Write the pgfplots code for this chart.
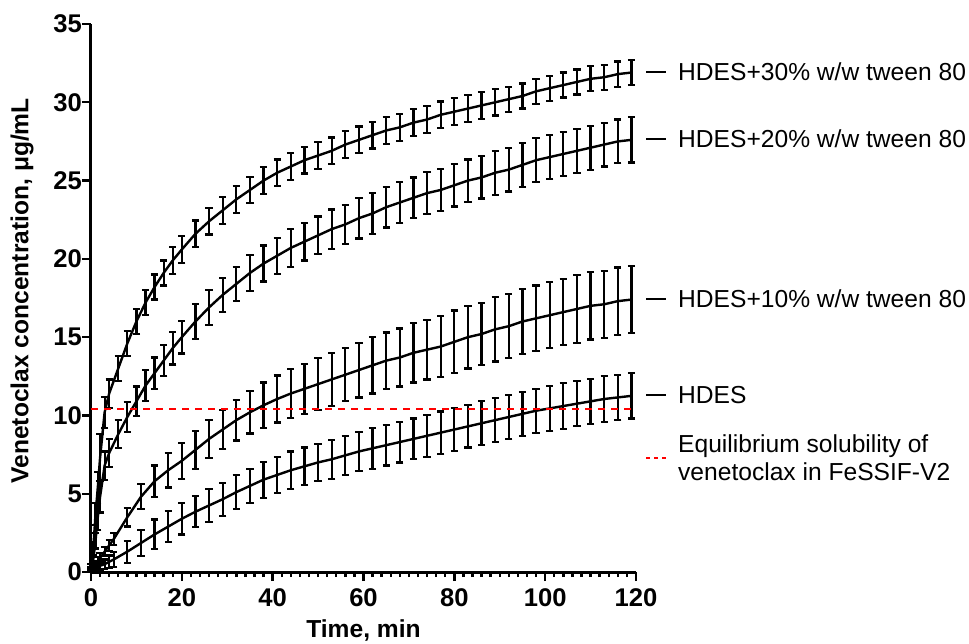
\documentclass[border=0pt]{standalone}
\usepackage{fontspec}
\setmainfont{Liberation Sans}
\usepackage{pgfplots}
\usepackage{pgfplotstable}
\pgfplotsset{compat=1.18}

% time, mean, sd
\pgfplotstableread{
t v e
0 0.3 0.2
0.5 1.5 0.4
1 3.7 0.7
1.5 5.4 1.0
2 7.3 1.5
3 10.2 1.0
4 11.4 0.9
6 13.0 0.8
8 14.6 0.8
10 16.0 0.8
12 17.2 0.8
14 18.2 0.8
16 19.1 0.8
18 19.9 0.85
20 20.6 0.85
23 21.6 0.85
26 22.4 0.85
29 23.1 0.85
32 23.8 0.85
35 24.4 0.85
38 25.0 0.85
41 25.5 0.85
44 25.9 0.85
47 26.3 0.85
50 26.6 0.85
53 26.9 0.85
56 27.3 0.85
59 27.6 0.85
62 27.9 0.85
65 28.2 0.85
68 28.4 0.85
71 28.7 0.85
74 28.9 0.85
77 29.2 0.85
80 29.4 0.85
83 29.6 0.85
86 29.8 0.85
89 30.0 0.85
92 30.2 0.8
95 30.4 0.8
98 30.7 0.8
101 30.9 0.8
104 31.1 0.8
107 31.3 0.8
110 31.5 0.8
113 31.6 0.8
116 31.8 0.8
119 31.9 0.8
}\tabA

\pgfplotstableread{
t v e
0 0.3 0.2
0.5 0.8 0.3
1 2.0 0.5
1.5 3.5 0.8
2 4.8 1.0
3 6.8 0.9
4 7.6 0.9
6 8.8 0.9
8 9.9 0.95
10 10.9 0.95
12 11.9 1.0
14 12.7 1.0
16 13.5 1.0
18 14.3 1.05
20 15.0 1.05
23 16.0 1.1
26 16.9 1.1
29 17.7 1.1
32 18.4 1.1
35 19.1 1.15
38 19.7 1.15
41 20.2 1.15
44 20.7 1.2
47 21.1 1.2
50 21.5 1.2
53 21.9 1.25
56 22.2 1.25
59 22.6 1.3
62 22.9 1.3
65 23.3 1.3
68 23.6 1.3
71 23.9 1.3
74 24.2 1.35
77 24.4 1.35
80 24.7 1.35
83 25.0 1.35
86 25.2 1.35
89 25.5 1.4
92 25.7 1.4
95 26.0 1.4
98 26.3 1.4
101 26.5 1.4
104 26.7 1.4
107 26.9 1.4
110 27.1 1.4
113 27.3 1.4
116 27.5 1.4
119 27.6 1.45
}\tabB

\pgfplotstableread{
t v e
0 0.2 0.1
0.5 0.3 0.15
1 0.5 0.2
1.5 0.7 0.25
2 0.9 0.3
3 1.3 0.3
4 1.7 0.35
5 2.1 0.4
8 3.5 0.6
11 4.8 0.8
14 5.8 1.0
17 6.5 1.1
20 7.1 1.15
23 7.8 1.2
26 8.5 1.2
29 9.1 1.25
32 9.7 1.3
35 10.2 1.35
38 10.65 1.45
41 11.05 1.5
44 11.4 1.55
47 11.7 1.6
50 12.0 1.65
53 12.3 1.7
56 12.6 1.7
59 12.9 1.75
62 13.2 1.8
65 13.5 1.8
68 13.7 1.85
71 14.0 1.9
74 14.2 1.9
77 14.4 1.95
80 14.7 2.0
83 15.0 2.0
86 15.2 2.0
89 15.5 2.05
92 15.7 2.05
95 16.0 2.1
98 16.2 2.1
101 16.4 2.1
104 16.6 2.1
107 16.8 2.15
110 17.0 2.15
113 17.1 2.15
116 17.3 2.15
119 17.4 2.15
}\tabC

\pgfplotstableread{
t v e
0 0.1 0.1
0.5 0.15 0.1
1 0.2 0.15
1.5 0.3 0.2
2 0.4 0.25
3 0.5 0.3
4 0.65 0.4
5 0.8 0.5
8 1.3 0.7
11 1.85 0.85
14 2.4 0.95
17 2.9 1.0
20 3.4 1.0
23 3.85 1.0
26 4.25 1.05
29 4.65 1.05
32 5.1 1.1
35 5.5 1.1
38 5.9 1.15
41 6.2 1.15
44 6.5 1.2
47 6.75 1.2
50 7.0 1.2
53 7.2 1.25
56 7.45 1.25
59 7.7 1.25
62 7.9 1.3
65 8.1 1.3
68 8.3 1.3
71 8.5 1.3
74 8.7 1.35
77 8.9 1.35
80 9.1 1.35
83 9.3 1.35
86 9.5 1.4
89 9.7 1.4
92 9.9 1.4
95 10.1 1.4
98 10.3 1.4
101 10.45 1.45
104 10.6 1.45
107 10.75 1.45
110 10.9 1.45
113 11.05 1.45
116 11.15 1.45
119 11.25 1.45
}\tabD

\begin{document}
\begin{tikzpicture}
\useasboundingbox (-45.5pt,-35.5pt) rectangle (439pt,286pt);
\begin{axis}[
  scale only axis, width=272.5pt, height=274pt,
  xmin=0, xmax=120, ymin=0, ymax=35,
  clip=false,
  axis x line*=bottom, axis y line*=left,
  axis line style={line width=1.5pt},
  tick align=outside,
  major tick length=4.5pt, minor tick length=2.5pt,
  every tick/.style={black, line width=1.2pt},
  xtick={0,20,...,120}, minor x tick num=9,
  ytick={0,5,...,35},
  /pgf/number format/assume math mode=true,
  xticklabel style={font=\fontsize{12.8}{14}\selectfont\bfseries, yshift=-0.5pt},
  yticklabel style={font=\fontsize{12.8}{14}\selectfont\bfseries, xshift=3.5pt},
  xlabel={Time, min},
  ylabel={Venetoclax concentration, μg/mL},
  every axis x label/.style={at={(axis description cs:0.5,0)}, anchor=center,
    yshift=-29pt, font=\fontsize{12.3}{14}\selectfont\bfseries},
  every axis y label/.style={at={(axis description cs:0,0.513)}, anchor=center,
    xshift=-34.5pt, rotate=90, font=\fontsize{12.3}{14}\selectfont\bfseries},
  error bars/y dir=both, error bars/y explicit,
  error bars/error bar style={line width=1.1pt, black},
  error bars/error mark options={rotate=90, mark size=1.8pt, line width=1.1pt, black},
]
\addplot[black, line width=1.2pt, mark=none] table[x=t, y=v, y error=e]{\tabA};
\addplot[black, line width=1.2pt, mark=none] table[x=t, y=v, y error=e]{\tabB};
\addplot[black, line width=1.2pt, mark=none] table[x=t, y=v, y error=e]{\tabC};
\addplot[black, line width=1.2pt, mark=none] table[x=t, y=v, y error=e]{\tabD};
\addplot[red, line width=1pt, dash pattern=on 3.5pt off 3pt, mark=none, forget plot] coordinates {(0,10.43) (120,10.43)};

% legend at curve ends
\begin{scope}[every node/.style={anchor=west, inner sep=0pt, font=\fontsize{12.3}{14.35}\selectfont}]
\draw[black, line width=1pt] (axis cs:122.3,31.93) -- (axis cs:126.6,31.93);
\node at (axis cs:129.2,31.93) {HDES+30\% w/w tween 80};
\draw[black, line width=1pt] (axis cs:122.3,27.67) -- (axis cs:126.6,27.67);
\node at (axis cs:129.2,27.67) {HDES+20\% w/w tween 80};
\draw[black, line width=1pt] (axis cs:122.3,17.46) -- (axis cs:126.6,17.46);
\node at (axis cs:129.2,17.46) {HDES+10\% w/w tween 80};
\draw[black, line width=1pt] (axis cs:122.3,11.28) -- (axis cs:126.6,11.28);
\node at (axis cs:129.2,11.28) {HDES};
\draw[red, line width=1pt, dash pattern=on 2pt off 2pt] (axis cs:122.3,7.3) -- (axis cs:126.6,7.3);
\node[align=left] at (axis cs:129.2,7.3) {Equilibrium solubility of\\venetoclax in FeSSIF-V2};
\end{scope}
\end{axis}
\end{tikzpicture}
\end{document}
